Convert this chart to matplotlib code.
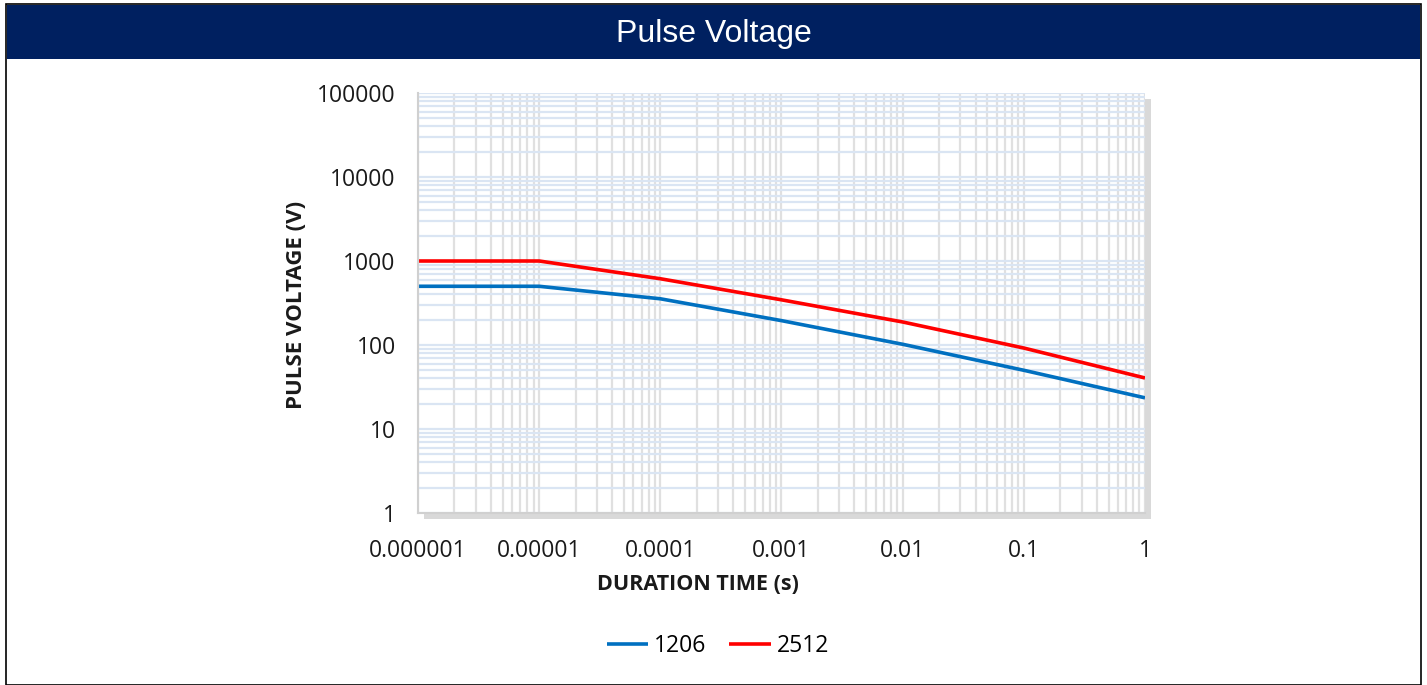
import matplotlib
matplotlib.use("Agg")
import matplotlib.pyplot as plt
import matplotlib.patheffects as pe
from matplotlib.patches import Rectangle
from matplotlib.ticker import LogLocator, FixedLocator, NullFormatter

# Data
duration = [1e-6, 1e-5, 1e-4, 1e-3, 1e-2, 1e-1, 1]
v_1206 = [500, 500, 355, 195, 102, 50, 23.5]
v_2512 = [1000, 1000, 615, 345, 188, 92, 40.5]
series_names = ["1206", "2512"]
x_tick_labels = ["0.000001", "0.00001", "0.0001", "0.001", "0.01", "0.1", "1"]
y_ticks = [1, 10, 100, 1000, 10000, 100000]
y_tick_labels = ["1", "10", "100", "1000", "10000", "100000"]
title = "Pulse Voltage"
xlabel = "DURATION TIME (s)"
ylabel = "PULSE VOLTAGE (V)"

W, H = 1427, 685
fig = plt.figure(figsize=(W / 100, H / 100), dpi=100)
fig.patch.set_facecolor("white")

# outer frame
fig.patches.append(Rectangle((6 / W, 0), (1421 - 6) / W, (H - 4) / H, transform=fig.transFigure,
                             fill=False, edgecolor="black", linewidth=1.2, zorder=0))
# title banner
fig.patches.append(Rectangle((7 / W, 1 - 59 / H), (1420 - 7) / W, (59 - 5) / H, transform=fig.transFigure,
                             facecolor="#002060", edgecolor="none", zorder=1))
fig.text(713.5 / W, 1 - 34 / H, title, color="white", fontsize=23, family="Liberation Sans",
         ha="center", va="center")

ax = fig.add_axes([418 / W, 1 - 513 / H, (1145 - 418) / W, (513 - 93) / H])
ax.set_xscale("log")
ax.set_yscale("log")
ax.set_xlim(1e-6, 1)
ax.set_ylim(1, 1e5)

ax.patch.set_path_effects([pe.SimplePatchShadow(offset=(4, -4), shadow_rgbFace="#a0a0a0", alpha=0.4),
                           pe.Normal()])

ax.xaxis.set_major_locator(FixedLocator(duration))
ax.xaxis.set_minor_locator(LogLocator(base=10, subs=range(2, 10), numticks=20))
ax.yaxis.set_major_locator(FixedLocator(y_ticks))
ax.yaxis.set_minor_locator(LogLocator(base=10, subs=range(2, 10), numticks=20))
ax.xaxis.set_minor_formatter(NullFormatter())
ax.yaxis.set_minor_formatter(NullFormatter())
ax.set_xticklabels(x_tick_labels)
ax.set_yticklabels(y_tick_labels)

ax.grid(True, which="both", axis="x", color="#e0e0e0", linewidth=1.6)
ax.grid(True, which="both", axis="y", color="#dae5f3", linewidth=1.6)
ax.set_axisbelow(True)
ax.tick_params(which="both", length=0)
ax.tick_params(axis="x", pad=19, labelsize=16.5)
ax.tick_params(axis="y", pad=16, labelsize=16.5)
for lab in ax.get_xticklabels() + ax.get_yticklabels():
    lab.set_family("Open Sans")
    lab.set_color("#1a1a1a")

for s in ["top", "right"]:
    ax.spines[s].set_visible(False)
for s in ["left", "bottom"]:
    ax.spines[s].set_color("#d0d0d0")
    ax.spines[s].set_linewidth(1.5)

ax.plot(duration, v_1206, color="#0070c0", linewidth=2.6, label=series_names[0], solid_capstyle="butt")
ax.plot(duration, v_2512, color="#ff0000", linewidth=2.6, label=series_names[1], solid_capstyle="butt")

ax.set_xlabel(xlabel, fontsize=15.5, fontweight="bold", family="Open Sans", color="#1a1a1a",
              ha="center", va="center")
ax.xaxis.set_label_coords((698 - 418) / 727, (513 - 584) / 420)
ax.set_ylabel(ylabel, fontsize=16, fontweight="bold", family="Open Sans", color="#1a1a1a",
              ha="center", va="center")
ax.yaxis.set_label_coords((297 - 418) / 727, (513 - 305) / 420)

leg = fig.legend(loc="center", bbox_to_anchor=(718 / W, 1 - 646 / H), ncol=2, frameon=False,
                 prop={"family": "Open Sans", "size": 16.5}, handlelength=1.8, handletextpad=0.25,
                 columnspacing=1.0)

fig.savefig("out.png", dpi=100)
